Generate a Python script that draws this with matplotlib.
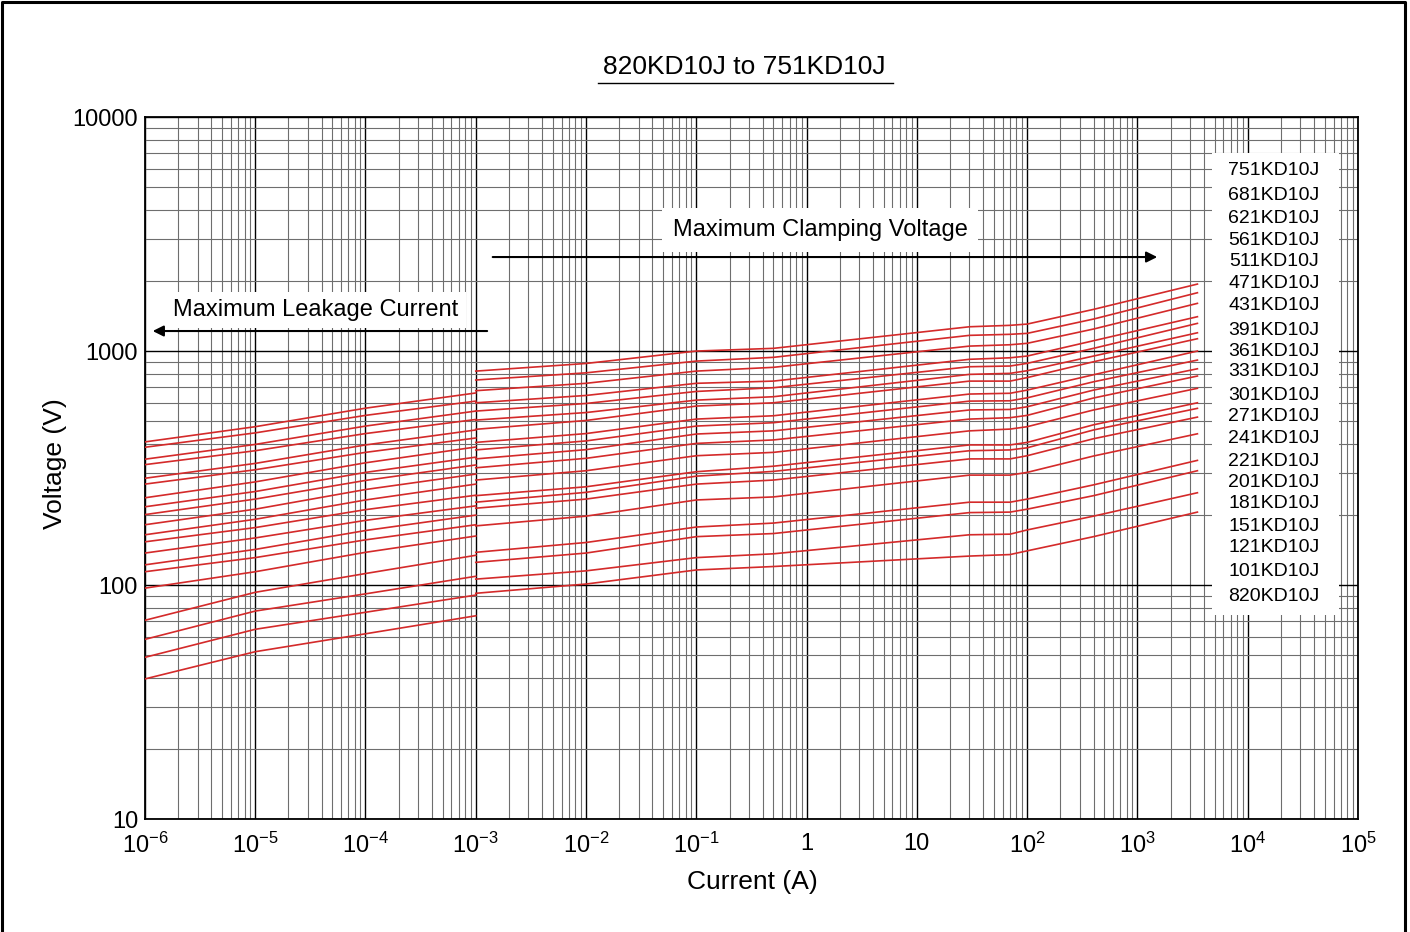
import numpy as np
import matplotlib.pyplot as plt
from matplotlib.patches import Rectangle
from matplotlib.lines import Line2D
from matplotlib.ticker import LogLocator, NullFormatter

# ---- data ----
part_names = [
    "751KD10J", "681KD10J", "621KD10J", "561KD10J", "511KD10J",
    "471KD10J", "431KD10J", "391KD10J", "361KD10J", "331KD10J",
    "301KD10J", "271KD10J", "241KD10J", "221KD10J", "201KD10J",
    "181KD10J", "151KD10J", "121KD10J", "101KD10J", "820KD10J",
]

# maximum leakage current region (A)
leak_current = [1e-6, 1e-5, 1e-4, 1e-3]
# voltages (V), one row per part, same order as part_names
leak_voltage = [
    [409, 475, 570, 662],
    [388, 447, 531, 611],
    [345, 399, 478, 554],
    [327, 375, 444, 510],
    [286, 331, 397, 460],
    [270, 311, 369, 425],
    [236, 276, 333, 389],
    [216, 251, 303, 352],
    [200, 233, 280, 326],
    [181, 211, 256, 298],
    [164, 191, 231, 270],
    [153, 176, 210, 242],
    [137, 159, 189, 218],
    [122, 142, 171, 199],
    [114, 131, 156, 181],
    [97, 114, 138, 162],
    [70.7, 93.1, 112, 134],
    [58.6, 77.4, 91.7, 109],
    [49.1, 64.7, 76.5, 90.6],
    [39.7, 51.9, 61.9, 73.9],
]

# maximum clamping voltage region (A)
clamp_current = [1e-3, 1e-2, 1e-1, 0.5, 30, 70, 100, 400, 3500]
clamp_voltage = [
    [821, 885, 1000, 1027, 1270, 1288, 1304, 1507, 1933],
    [752, 807, 906, 940, 1167, 1179, 1190, 1370, 1775],
    [677, 728, 821, 852, 1050, 1064, 1079, 1242, 1599],
    [601, 646, 728, 744, 922, 936, 952, 1107, 1402],
    [554, 597, 672, 697, 857, 863, 886, 1027, 1313],
    [507, 546, 617, 638, 795, 803, 824, 952, 1197],
    [463, 505, 582, 601, 744, 744, 770, 900, 1129],
    [407, 444, 512, 529, 655, 660, 681, 792, 1000],
    [378, 413, 478, 494, 611, 613, 631, 739, 915],
    [346, 379, 442, 456, 560, 563, 578, 681, 840],
    [317, 348, 403, 417, 512, 519, 531, 630, 782],
    [281, 308, 357, 369, 456, 464, 475, 560, 693],
    [241, 263, 305, 322, 397, 397, 407, 484, 601],
    [226, 249, 292, 306, 375, 378, 386, 460, 569],
    [213, 233, 270, 281, 346, 346, 357, 422, 522],
    [179, 197, 231, 238, 295, 295, 303, 356, 443],
    [138, 152, 177, 184, 226, 226, 233, 268, 341],
    [125, 137, 161, 166, 204, 205, 211, 241, 308],
    [106, 115, 131, 136, 164, 165, 172, 197, 248],
    [92.2, 101, 116, 120, 133, 135, 140, 161, 205],
]

x_ticks = [1e-6, 1e-5, 1e-4, 1e-3, 1e-2, 1e-1, 1, 10, 1e2, 1e3, 1e4, 1e5]
x_tick_labels = [
    r"$10^{-6}$", r"$10^{-5}$", r"$10^{-4}$", r"$10^{-3}$", r"$10^{-2}$",
    r"$10^{-1}$", "1", "10", r"$10^{2}$", r"$10^{3}$", r"$10^{4}$",
    r"$10^{5}$",
]
y_ticks = [10, 100, 1000, 10000]
y_tick_labels = ["10", "100", "1000", "10000"]

# vertical placement of the part names (axes fraction)
label_pos = [
    0.9235, 0.8889, 0.8557, 0.8238, 0.7939, 0.7631, 0.7322, 0.6966,
    0.6657, 0.6372, 0.6040, 0.5731, 0.5423, 0.5090, 0.4791, 0.4497,
    0.4174, 0.3870, 0.3523, 0.3167,
]

RED = "#d42a2a"


def main():
    plt.rcParams['font.family'] = ['Liberation Sans', 'DejaVu Sans']
    plt.rcParams['mathtext.fontset'] = 'custom'
    plt.rcParams['mathtext.rm'] = 'Liberation Sans'
    plt.rcParams['mathtext.it'] = 'Liberation Sans:italic'

    fig = plt.figure(figsize=(14.1, 9.32), dpi=100)
    ax = fig.add_axes([0.1028, 0.1212, 0.8603, 0.7532])
    ax.set_xscale('log')
    ax.set_yscale('log')
    ax.set_xlim(1e-6, 1e5)
    ax.set_ylim(10, 1e4)

    # log grid, decades black, sub-decades grey
    ax.xaxis.set_minor_locator(
        LogLocator(base=10, subs=np.arange(2, 10), numticks=100))
    ax.yaxis.set_minor_locator(
        LogLocator(base=10, subs=np.arange(2, 10), numticks=100))
    ax.xaxis.set_minor_formatter(NullFormatter())
    ax.yaxis.set_minor_formatter(NullFormatter())
    ax.set_xticks(x_ticks)
    ax.set_xticklabels(x_tick_labels)
    ax.set_yticks(y_ticks)
    ax.set_yticklabels(y_tick_labels)
    ax.set_axisbelow(True)
    ax.grid(which='major', color='black', lw=1.0)
    ax.grid(which='minor', color='#6e6e6e', lw=0.8)
    ax.tick_params(which='both', length=0)
    ax.tick_params(axis='x', labelsize=17, pad=10)
    ax.tick_params(axis='y', labelsize=17, pad=5)
    for s in ax.spines.values():
        s.set_linewidth(1.3)

    # curves
    for lv, cv in zip(leak_voltage, clamp_voltage):
        ax.plot(leak_current, lv, color=RED, lw=1.2, zorder=3)
        ax.plot(clamp_current, cv, color=RED, lw=1.2, zorder=3)

    # white box holding the part names
    ax.add_patch(Rectangle((0.8796, 0.2906), 0.1047, 0.6581,
                           transform=ax.transAxes, facecolor='white',
                           edgecolor='none', zorder=2))
    for name, yp in zip(part_names, label_pos):
        ax.text(0.9308, yp, name, transform=ax.transAxes, ha='center',
                va='center', fontsize=14, zorder=4)

    # region annotations
    ax.text(0.5565, 0.839, "Maximum Clamping Voltage",
            transform=ax.transAxes, ha='center', va='center', fontsize=17,
            zorder=4,
            bbox=dict(boxstyle='square,pad=0.45', fc='white', ec='none'))
    ax.annotate('', xy=(0.8368, 0.8006), xytext=(0.2844, 0.8006),
                xycoords='axes fraction',
                arrowprops=dict(arrowstyle='-|>', color='black', lw=1.5,
                                mutation_scale=16), zorder=4)
    ax.text(0.141, 0.725, "Maximum Leakage Current",
            transform=ax.transAxes, ha='center', va='center', fontsize=17,
            zorder=4,
            bbox=dict(boxstyle='square,pad=0.3', fc='white', ec='none'))
    ax.annotate('', xy=(0.0041, 0.6952), xytext=(0.2844, 0.6952),
                xycoords='axes fraction',
                arrowprops=dict(arrowstyle='-|>', color='black', lw=1.5,
                                mutation_scale=16), zorder=4)

    # title with underline
    fig.text(0.528, 1 - 67 / 932, "820KD10J to 751KD10J", ha='center',
             va='center', fontsize=19)
    fig.add_artist(Line2D([598 / 1410, 893 / 1410], [1 - 83 / 932] * 2,
                          transform=fig.transFigure, color='black', lw=1.0))

    fig.text(752 / 1410, 1 - 882 / 932, "Current (A)", ha='center',
             va='center', fontsize=19)
    fig.text(55 / 1410, 1 - 464 / 932, "Voltage (V)", ha='center',
             va='center', rotation=90, fontsize=19)

    # outer frame (top, left and right edges)
    fx = [0.0014, 0.0014, 0.9965, 0.9965]
    fy = [0.0, 0.9979, 0.9979, 0.0]
    fig.add_artist(Line2D(fx, fy, transform=fig.transFigure,
                          color='black', lw=2.2))

    fig.savefig('out.png', dpi=100)


if __name__ == "__main__":
    main()
